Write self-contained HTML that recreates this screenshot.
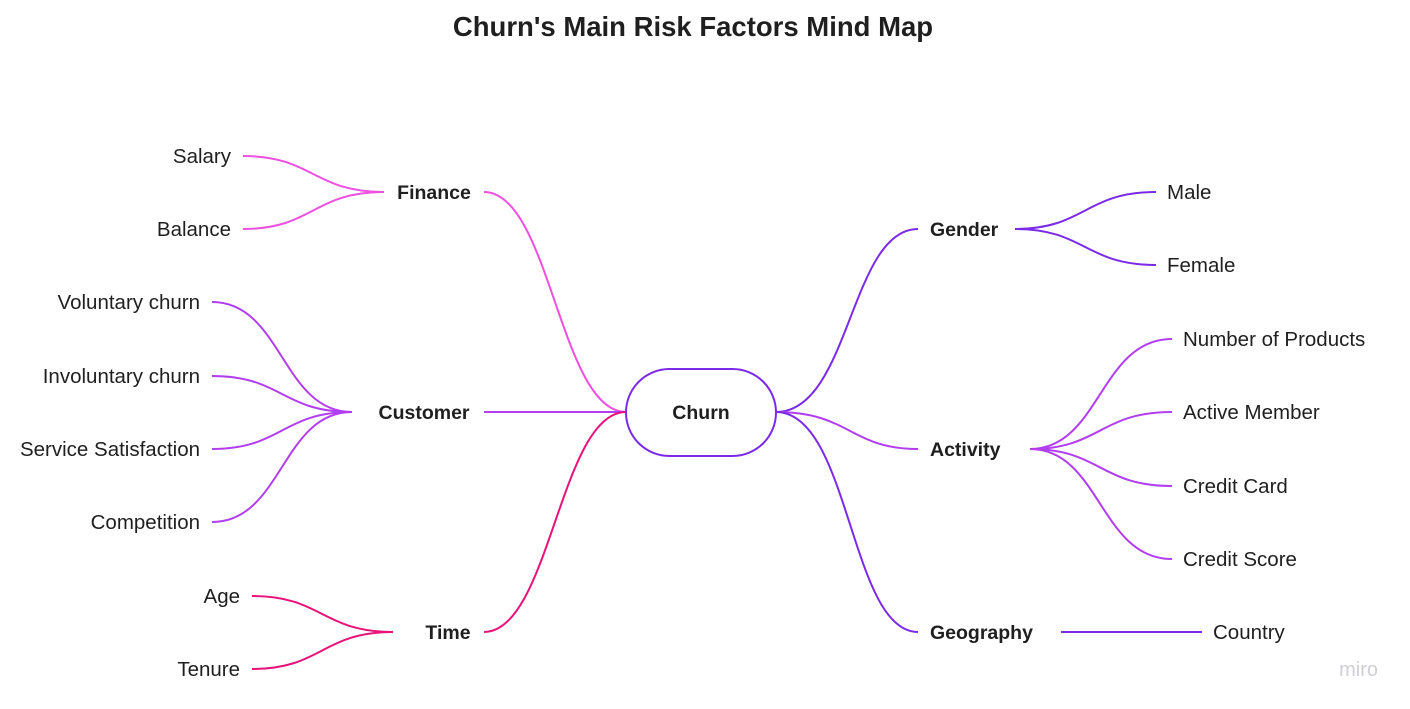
<!DOCTYPE html>
<html><head><meta charset="utf-8"><style>
html,body{margin:0;padding:0;background:#fff;}
svg{display:block;}
text{font-family:"Liberation Sans",sans-serif;fill:#1f1f1f;}
.b{font-weight:bold;font-size:19.5px;}
</style></head><body>
<svg width="1410" height="709" viewBox="0 0 1410 709" xmlns="http://www.w3.org/2000/svg">
<text x="693" y="36" text-anchor="middle" font-weight="bold" font-size="27.5">Churn's Main Risk Factors Mind Map</text>
<g fill="none" stroke-width="2">
<path d="M626 412 C560 412 550 192 484 192" stroke="#ee50e0"/>
<path d="M384 192 C313 192 313 156 243 156" stroke="#ee50e0"/>
<path d="M384 192 C313 192 313 229 243 229" stroke="#ee50e0"/>
<path d="M484 412 L626 412" stroke="#b23ef0"/>
<path d="M352 412 C282 412 282 302 212 302" stroke="#b23ef0"/>
<path d="M352 412 C282 412 282 376 212 376" stroke="#b23ef0"/>
<path d="M352 412 C282 412 282 449 212 449" stroke="#b23ef0"/>
<path d="M352 412 C282 412 282 522 212 522" stroke="#b23ef0"/>
<path d="M626 412 C560 412 550 632 484 632" stroke="#e8137a"/>
<path d="M393 632 C322 632 322 596 252 596" stroke="#e8137a"/>
<path d="M393 632 C322 632 322 669 252 669" stroke="#e8137a"/>
<path d="M776 412 C850 412 850 229 918 229" stroke="#7b2be8"/>
<path d="M1015 229 C1085 229 1085 192 1156 192" stroke="#7b2be8"/>
<path d="M1015 229 C1085 229 1085 265 1156 265" stroke="#7b2be8"/>
<path d="M776 412 C850 412 850 449 918 449" stroke="#b23ef0"/>
<path d="M1030 449 C1100 449 1100 339 1172 339" stroke="#b23ef0"/>
<path d="M1030 449 C1100 449 1100 412 1172 412" stroke="#b23ef0"/>
<path d="M1030 449 C1100 449 1100 486 1172 486" stroke="#b23ef0"/>
<path d="M1030 449 C1100 449 1100 559 1172 559" stroke="#b23ef0"/>
<path d="M776 412 C850 412 850 632 918 632" stroke="#7b2be8"/>
<path d="M1061 632 L1202 632" stroke="#7b2be8"/>
<rect x="626" y="369" width="150" height="87" rx="43.5" fill="#fff" stroke="#7b2be8"/>
</g>
<g font-size="20.5">
<text x="701" y="419" text-anchor="middle" class="b">Churn</text>
<text x="434" y="199" text-anchor="middle" class="b">Finance</text>
<text x="424" y="419" text-anchor="middle" class="b">Customer</text>
<text x="448" y="639" text-anchor="middle" class="b">Time</text>
<text x="930" y="236" class="b">Gender</text>
<text x="930" y="456" class="b">Activity</text>
<text x="930" y="639" class="b">Geography</text>
<g text-anchor="end">
<text x="231" y="163">Salary</text>
<text x="231" y="236">Balance</text>
<text x="200" y="309">Voluntary churn</text>
<text x="200" y="383">Involuntary churn</text>
<text x="200" y="456">Service Satisfaction</text>
<text x="200" y="529">Competition</text>
<text x="240" y="603">Age</text>
<text x="240" y="676">Tenure</text>
</g>
<text x="1167" y="199">Male</text>
<text x="1167" y="272">Female</text>
<text x="1183" y="346">Number of Products</text>
<text x="1183" y="419">Active Member</text>
<text x="1183" y="493">Credit Card</text>
<text x="1183" y="566">Credit Score</text>
<text x="1213" y="639">Country</text>
</g>
<text x="1378" y="676" text-anchor="end" font-size="20" style="fill:#cfcfd8">miro</text>
</svg>
</body></html>
